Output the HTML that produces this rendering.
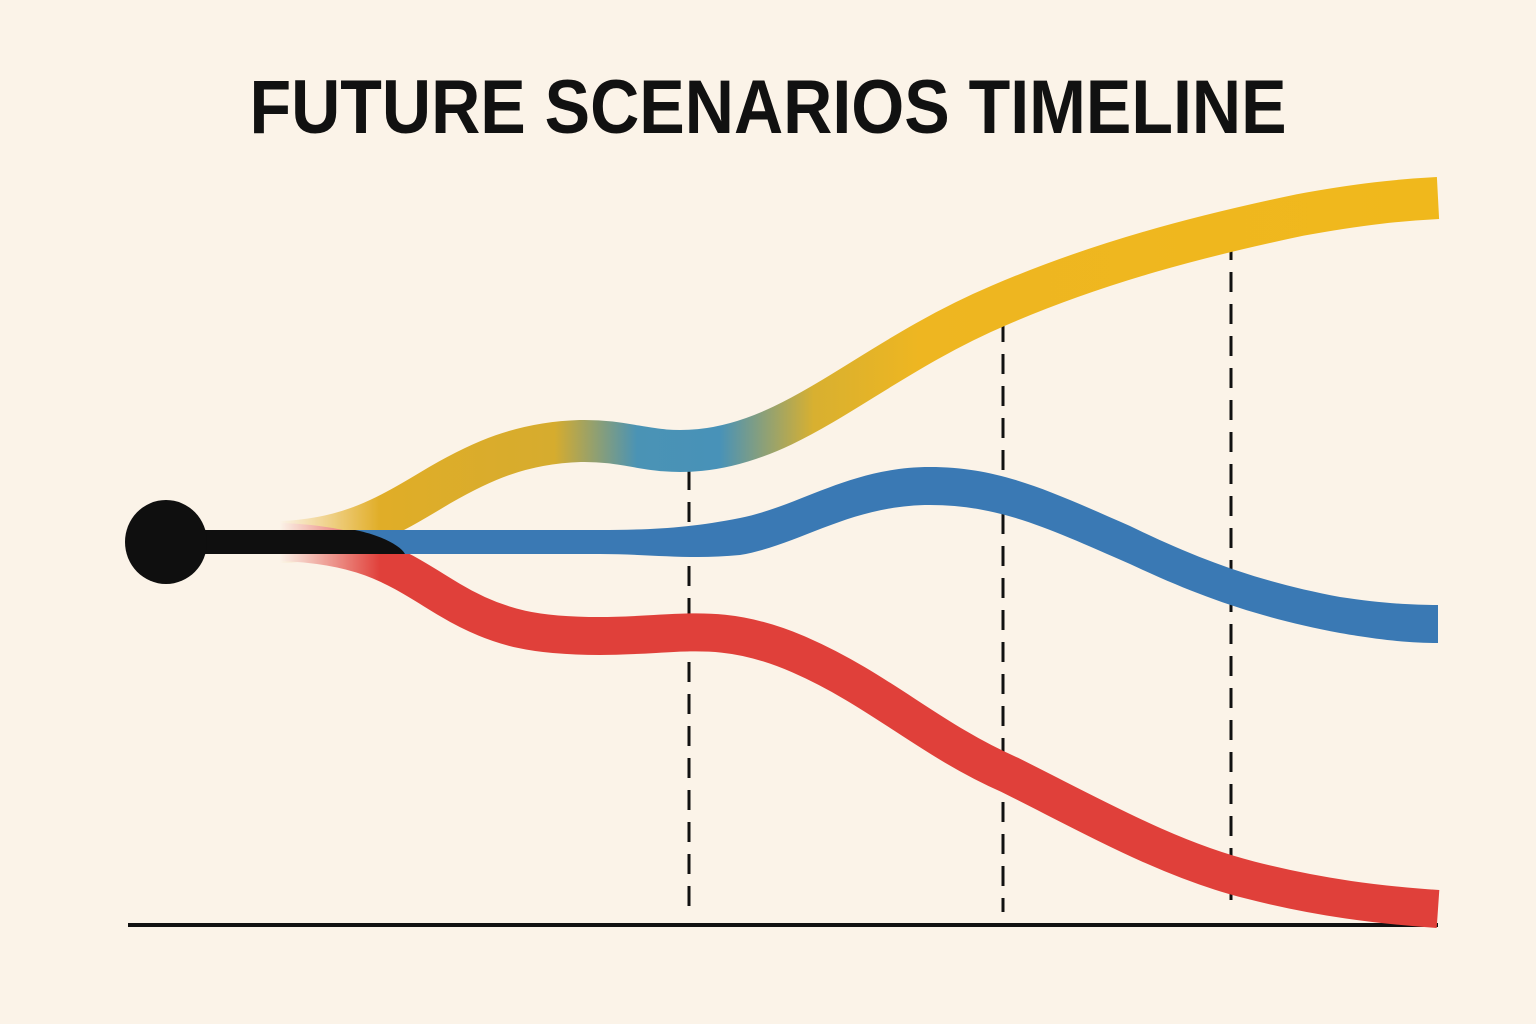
<!DOCTYPE html>
<html><head><meta charset="utf-8"><style>
html,body{margin:0;padding:0;background:#fbf3e8;}
svg{display:block}
</style></head><body>
<svg width="1536" height="1024" viewBox="0 0 1536 1024" xmlns="http://www.w3.org/2000/svg">
<rect width="1536" height="1024" fill="#fbf3e8"/>
<defs>
<linearGradient id="yg" gradientUnits="userSpaceOnUse" x1="260" y1="0" x2="1438" y2="0">
<stop offset="0" stop-color="#e7ae23"/>
<stop offset="0.25" stop-color="#d6ac2e"/>
<stop offset="0.32" stop-color="#4a93b5"/>
<stop offset="0.39" stop-color="#4892b8"/>
<stop offset="0.47" stop-color="#d8b030"/>
<stop offset="0.56" stop-color="#eeb621"/>
<stop offset="1" stop-color="#f0b81c"/>
</linearGradient>
<linearGradient id="fg" gradientUnits="userSpaceOnUse" x1="280" y1="0" x2="380" y2="0">
<stop offset="0" stop-color="#000"/>
<stop offset="1" stop-color="#fff"/>
</linearGradient>
<mask id="fm" maskUnits="userSpaceOnUse" x="0" y="0" width="1536" height="1024">
<rect x="0" y="0" width="1536" height="1024" fill="url(#fg)"/>
</mask>
</defs>
<text x="768" y="133" text-anchor="middle" font-family="Liberation Sans, sans-serif" font-weight="bold" font-size="76" fill="#111" textLength="1037" lengthAdjust="spacingAndGlyphs">FUTURE SCENARIOS TIMELINE</text>
<g stroke="#111" stroke-width="3" stroke-dasharray="20,12">
<line x1="689" y1="470" x2="689" y2="912"/>
<line x1="1003" y1="322" x2="1003" y2="912"/>
<line x1="1231" y1="240" x2="1231" y2="912"/>
</g>
<line x1="128" y1="925" x2="1438" y2="925" stroke="#111" stroke-width="4"/>
<g mask="url(#fm)">
<path d="M280 542 C350 540 390 515 440 485 C480 462 520 443 580 441 C630 440 650 455 700 450 C800 440 870 360 1000 305 C1100 262 1200 236 1300 215 C1360 204 1400 200 1438 198" fill="none" stroke="url(#yg)" stroke-width="42"/>
<path d="M280 542 C370 545 400 570 450 600 C500 630 540 636 600 636 C680 636 720 620 800 655 C880 690 930 740 1010 775 C1100 820 1170 860 1250 880 C1320 898 1380 905 1438 909" fill="none" stroke="#e0403a" stroke-width="38"/>
</g>
<path d="M300 530 L600 530 C650 530 690 528 740 518 C800 506 850 467 930 467 C1000 467 1050 491 1130 526 C1200 560 1260 582 1340 597 C1380 603 1410 605 1438 605 L1438 643 C1410 643 1380 640 1340 633 C1260 618 1200 597 1130 564 C1050 529 1000 505 930 505 C850 505 800 545 740 555 C690 560 650 554 600 554 L300 554 Z" fill="#3a79b4"/>
<rect x="190" y="530" width="150" height="24" fill="#0f0f0f"/>
<path d="M330 530 L355 530 C380 535 400 545 405 554 L330 554 Z" fill="#0f0f0f"/>
<ellipse cx="166" cy="542" rx="41" ry="42" fill="#0f0f0f"/>
</svg>
</body></html>
